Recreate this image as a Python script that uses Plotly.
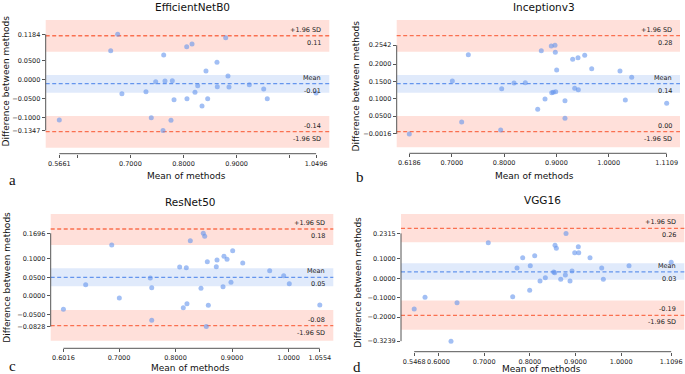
import plotly.graph_objects as go

W, H = 685, 374
titles = ["EfficientNetB0", "Inceptionv3", "ResNet50", "VGG16"]
letters = ["a", "b", "c", "d"]

# ---------------- data (mean of methods, difference between methods) ----------------
a_mean = [0.5661, 0.6629, 0.6760, 0.6840, 0.7293, 0.7393, 0.7476, 0.7614, 0.7627, 0.7651,
          0.7764, 0.7789, 0.7821, 0.8060, 0.8065, 0.8160, 0.8216, 0.8267, 0.8348, 0.8423,
          0.8455, 0.8630, 0.8636, 0.8794, 0.8837, 0.8856, 0.9239, 0.9510, 0.9577, 1.0496]
a_diff = [-0.1070, 0.0753, 0.1184, -0.0380, -0.0326, -0.1010, -0.0063, -0.1347, 0.0640, -0.0045,
          -0.1080, -0.0037, -0.0537, 0.0858, -0.0510, 0.0929, -0.0340, -0.0168, -0.0703, 0.0218,
          -0.0510, 0.0447, -0.0195, 0.1095, 0.0087, -0.0203, -0.0142, -0.0255, -0.0510, -0.0360]

b_mean = [0.6186, 0.7009, 0.7188, 0.7315, 0.7934, 0.7953, 0.8189, 0.8405, 0.8642, 0.8711,
          0.8782, 0.8902, 0.8910, 0.8940, 0.8973, 0.8979, 0.8986, 0.9005, 0.9164, 0.9164,
          0.9311, 0.9350, 0.9413, 0.9419, 0.9541, 0.9675, 1.0216, 1.0318, 1.0440, 1.1109]
b_diff = [-0.0016, 0.1510, 0.0329, 0.2268, 0.0098, 0.1288, 0.1452, 0.1461, 0.0695, 0.2383,
          0.0991, 0.2519, 0.1173, 0.1184, 0.2542, 0.2337, 0.1202, 0.1827, 0.0942, 0.0435,
          0.2135, 0.1300, 0.2182, 0.1259, 0.2251, 0.1865, 0.1798, 0.0963, 0.1617, 0.0867]

c_mean = [0.6016, 0.6410, 0.6871, 0.7006, 0.7554, 0.7579, 0.7579, 0.8074, 0.8138, 0.8191,
          0.8203, 0.8262, 0.8451, 0.8492, 0.8517, 0.8545, 0.8563, 0.8581, 0.8722, 0.8735,
          0.8841, 0.8858, 0.8912, 0.8982, 0.9012, 0.9190, 0.9667, 0.9915, 1.0014, 1.0554]
c_diff = [-0.0360, 0.0305, 0.1378, -0.0054, 0.0486, 0.0225, -0.0658, 0.0784, -0.0315, 0.0766,
          -0.0207, 0.1496, 0.0207, 0.1696, 0.1613, -0.0828, 0.0928, -0.0252, 0.0793, 0.0973,
          0.0252, 0.1072, 0.0991, 0.0370, 0.1225, 0.0892, 0.0685, 0.0550, 0.0333, -0.0243]

d_mean = [0.5468, 0.5705, 0.6274, 0.6406, 0.7090, 0.7625, 0.7720, 0.7844, 0.7997, 0.8010,
          0.8107, 0.8223, 0.8340, 0.8523, 0.8545, 0.8552, 0.8581, 0.8677, 0.8778, 0.8793,
          0.8880, 0.8924, 0.8983, 0.9062, 0.9071, 0.9318, 0.9574, 0.9610, 1.0172, 1.1096]
d_diff = [-0.1580, -0.0980, -0.3239, -0.1256, 0.1837, -0.0947, 0.0531, 0.1063, -0.0619, 0.0650,
          0.1167, -0.0137, 0.0034, 0.0325, 0.0290, 0.1700, 0.1544, -0.0052, 0.0170, 0.2315,
          -0.0137, 0.0376, 0.1320, 0.1630, 0.1320, 0.1063, 0.0531, -0.0052, 0.0650, 0.0825]

# mean difference, +1.96 SD, -1.96 SD
a_stats = [-0.0116, 0.1147, -0.1379]
b_stats = [0.1432, 0.2816, 0.0049]
c_stats = [0.0505, 0.1810, -0.0800]
d_stats = [0.0335, 0.2577, -0.1907]

# confidence bands: upper limit, mean, lower limit (low, high)
a_bands = [(0.0726, 0.1561), (-0.0353, 0.0113), (-0.1800, -0.0966)]
b_bands = [(0.2354, 0.3268), (0.1170, 0.1680), (-0.0400, 0.0500)]
c_bands = [(0.1378, 0.2216), (0.0262, 0.0748), (-0.1207, -0.0378)]
d_bands = [(0.1860, 0.3314), (-0.0070, 0.0773), (-0.2650, -0.1150)]

# tick labels
a_xticks = [0.5661, 0.6, 0.7, 0.8, 0.9, 1.0, 1.0496]
a_xtext = ["0.5661", "", "0.7000", "0.8000", "0.9000", "", "1.0496"]
a_yticks = [-0.1347, -0.1, -0.05, 0.0, 0.05, 0.1184]
b_xticks = [0.6186, 0.7, 0.8, 0.9, 1.0, 1.1109]
b_xtext = ["0.6186", "0.7000", "0.8000", "0.9000", "1.0000", "1.1109"]
b_yticks = [-0.0016, 0.05, 0.1, 0.15, 0.2, 0.2542]
c_xticks = [0.6016, 0.7, 0.8, 0.9, 1.0, 1.0554]
c_xtext = ["0.6016", "0.7000", "0.8000", "0.9000", "1.0000", "1.0554"]
c_yticks = [-0.0828, -0.05, 0.0, 0.05, 0.1, 0.1696]
d_xticks = [0.5468, 0.6, 0.7, 0.8, 0.9, 1.0, 1.1096]
d_xtext = ["0.5468", "0.6000", "0.7000", "0.8000", "0.9000", "1.0000", "1.1096"]
d_yticks = [-0.3239, -0.2, -0.1, 0.0, 0.1, 0.2315]

panels = [
    dict(m=a_mean, d=a_diff, s=a_stats, b=a_bands, xt=a_xticks, xtt=a_xtext, yt=a_yticks),
    dict(m=b_mean, d=b_diff, s=b_stats, b=b_bands, xt=b_xticks, xtt=b_xtext, yt=b_yticks),
    dict(m=c_mean, d=c_diff, s=c_stats, b=c_bands, xt=c_xticks, xtt=c_xtext, yt=c_yticks),
    dict(m=d_mean, d=d_diff, s=d_stats, b=d_bands, xt=d_xticks, xtt=d_xtext, yt=d_yticks),
]

# ---------------- layout geometry (pixels in the 685x374 canvas) ----------------
# plot boxes: left, right, top, bottom
boxes = [(45.7, 329.3, 20, 153.7), (396.7, 680.0, 20, 153.3),
         (50.7, 333.3, 214, 348.3), (401.0, 684.3, 214, 351.7)]
xranges = [(0.5405, 1.0745), (0.5945, 1.1364), (0.5791, 1.0793), (0.5179, 1.1383)]
yranges = [(-0.1958, 0.1561), (-0.0573, 0.3268), (-0.1414, 0.2216), (-0.3784, 0.3314)]
title_pos = [(192.5, 7.5), (543.7, 7.5), (190.3, 201.7), (542.2, 199.7)]
xlab_pos = [(187, 176), (534, 176), (190.5, 368.3), (541.3, 369)]
ylab_pos = [(5.5, 81), (355.5, 86), (6.7, 277), (357.7, 282)]
letter_pos = [(12.7, 180), (360, 177), (12.7, 366), (356.7, 367)]

FONT = "DejaVu Sans"
LOA = "#FA7050"
MEANC = "#6495ED"
SPINE = "#555555"


def px(x):
    return x / W


def py(y):
    return 1 - y / H


def fmt(v):
    s = "%.4f" % abs(v)
    return ("\u2212" + s) if v < 0 else s


fig = go.Figure()
shapes = []
annotations = []
layout = {}

for i, p in enumerate(panels):
    n = "" if i == 0 else str(i + 1)
    xa, ya = "x" + n, "y" + n
    l, r, t, b = boxes[i]
    layout["xaxis" + n] = dict(
        domain=[px(l), px(r)], range=list(xranges[i]), anchor=ya,
        showgrid=False, zeroline=False, showline=False, tickangle=0,
        ticks="outside", ticklen=3, tickwidth=1, tickcolor=SPINE,
        tickvals=p["xt"], ticktext=p["xtt"],
        tickfont=dict(family=FONT, size=6.5, color="#222"))
    layout["yaxis" + n] = dict(
        domain=[py(b), py(t)], range=list(yranges[i]), anchor=xa,
        showgrid=False, zeroline=False, showline=False,
        ticks="outside", ticklen=3, tickwidth=1, tickcolor=SPINE,
        tickvals=p["yt"], ticktext=[fmt(v) for v in p["yt"]],
        tickfont=dict(family=FONT, size=6.5, color="#222"))

    # bands
    band_cols = ["rgba(255,99,71,0.2)", "rgba(100,149,237,0.2)", "rgba(255,99,71,0.2)"]
    for (lo, hi), col in zip(p["b"], band_cols):
        shapes.append(dict(type="rect", xref=xa + " domain", yref=ya, x0=0, x1=1,
                           y0=lo, y1=hi, fillcolor=col, line=dict(width=0), layer="below"))
    # lines
    mean_v, up_v, lo_v = p["s"]
    for v, col in [(mean_v, MEANC), (up_v, LOA), (lo_v, LOA)]:
        shapes.append(dict(type="line", xref=xa + " domain", yref=ya, x0=0, x1=1,
                           y0=v, y1=v, line=dict(color=col, width=1.3, dash="4px,2.5px"),
                           layer="below"))
    # trimmed spines
    shapes.append(dict(type="line", xref=xa + " domain", yref=ya, x0=0, x1=0,
                       y0=min(p["d"]), y1=max(p["d"]), line=dict(color=SPINE, width=1)))
    shapes.append(dict(type="line", xref=xa, yref=ya + " domain", x0=min(p["m"]), x1=max(p["m"]),
                       y0=0, y1=0, line=dict(color=SPINE, width=1)))

    # points
    fig.add_trace(go.Scatter(x=p["m"], y=p["d"], mode="markers", xaxis=xa, yaxis=ya,
                             marker=dict(color=MEANC, opacity=0.6, size=5, line=dict(width=0)),
                             showlegend=False, hoverinfo="skip"))

    # line labels
    tf = dict(family=FONT, size=6.5, color="#222")
    for text, v, above in [("+1.96 SD", up_v, True), ("%.2f" % up_v, up_v, False),
                           ("Mean", mean_v, True), ("%.2f" % mean_v, mean_v, False),
                           ("%.2f" % lo_v, lo_v, True), ("-1.96 SD", lo_v, False)]:
        annotations.append(dict(text=text, xref=xa + " domain", yref=ya, x=1, y=v,
                                xanchor="right", yanchor="bottom" if above else "top",
                                xshift=-6, yshift=0 if above else -1,
                                showarrow=False, font=tf))

    # titles and axis labels
    annotations.append(dict(text=titles[i], xref="paper", yref="paper",
                            x=px(title_pos[i][0]), y=py(title_pos[i][1]),
                            xanchor="center", yanchor="middle", showarrow=False,
                            font=dict(family=FONT, size=10.5, color="#111")))
    annotations.append(dict(text="Mean of methods", xref="paper", yref="paper",
                            x=px(xlab_pos[i][0]), y=py(xlab_pos[i][1]),
                            xanchor="center", yanchor="middle", showarrow=False,
                            font=dict(family=FONT, size=9, color="#111")))
    annotations.append(dict(text="Difference between methods", xref="paper", yref="paper",
                            x=px(ylab_pos[i][0]), y=py(ylab_pos[i][1]), textangle=-90,
                            xanchor="center", yanchor="middle", showarrow=False,
                            font=dict(family=FONT, size=9, color="#111")))
    annotations.append(dict(text=letters[i], xref="paper", yref="paper",
                            x=px(letter_pos[i][0]), y=py(letter_pos[i][1]),
                            xanchor="center", yanchor="middle", showarrow=False,
                            font=dict(family="Liberation Serif", size=15, color="#111")))

fig.update_layout(width=W, height=H, margin=dict(l=0, r=0, t=0, b=0),
                  paper_bgcolor="white", plot_bgcolor="rgba(0,0,0,0)",
                  shapes=shapes, annotations=annotations, **layout)

fig.write_html("out.html", config={"displayModeBar": False},
               post_script="document.body.style.margin='0px';document.body.style.overflow='hidden';")
